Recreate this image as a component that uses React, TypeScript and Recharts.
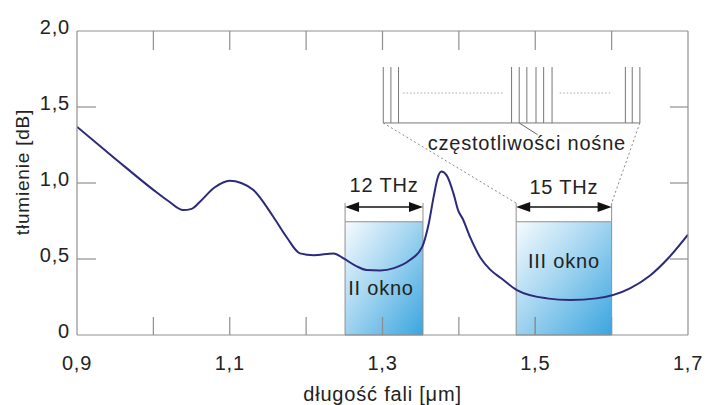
import React from 'react';
import {
  ComposedChart, Line, XAxis, YAxis, ReferenceArea, ReferenceLine, ReferenceDot,
} from 'recharts';

// attenuation curve
const wavelength = [
  0.9, 0.95, 1.0, 1.02, 1.039, 1.05, 1.061, 1.08, 1.1, 1.115, 1.131, 1.157, 1.175, 1.192,
  1.21, 1.236, 1.249, 1.265, 1.279, 1.297, 1.315, 1.335, 1.352, 1.36, 1.367, 1.372, 1.377,
  1.384, 1.393, 1.399, 1.405, 1.415, 1.428, 1.441, 1.455, 1.476, 1.515, 1.546, 1.58, 1.624,
  1.65, 1.675, 1.7,
];
const attenuation = [
  1.37, 1.16, 0.955, 0.88, 0.822, 0.83, 0.877, 0.97, 1.015, 1.0, 0.954, 0.778, 0.64, 0.537,
  0.525, 0.537, 0.504, 0.455, 0.428, 0.425, 0.44, 0.49, 0.58, 0.72, 0.91, 1.03, 1.075,
  1.05, 0.93, 0.82, 0.765, 0.64, 0.51, 0.43, 0.375, 0.296, 0.241, 0.23, 0.241, 0.307,
  0.39, 0.51, 0.66,
];

const xTickValues = [0.9, 1.0, 1.1, 1.2, 1.3, 1.4, 1.5, 1.6, 1.7];
const xTickLabels = ['0,9', '', '1,1', '', '1,3', '', '1,5', '', '1,7'];
const yTickValues = [0, 0.5, 1, 1.5, 2];
const yTickLabels = ['0', '0,5', '1,0', '1,5', '2,0'];

// transmission windows
const windowStarts = [1.251, 1.475];
const windowEnds = [1.353, 1.6];
const windowNames = ['II okno', 'III okno'];
const windowNameY = [0.31, 0.49];
const bandwidths = ['12 THz', '15 THz'];
const bandwidthLabelY = [0.985, 0.975];
const windowTop = 0.745;
const arrowY = 0.842;
const edgeTop = 0.868;

// carrier comb inset
const carriers = [1.301, 1.311, 1.321, 1.469, 1.479, 1.489, 1.501, 1.511, 1.522, 1.618, 1.627, 1.637];
const combBase = 1.395;
const combTop = 1.763;
const gapStarts = [1.327, 1.532];
const gapEnds = [1.46, 1.598];
const gapY = 1.592;

const curve = wavelength.map((x, i) => ({ x, y: attenuation[i] }));

// axis ticks hidden under the windows get redrawn on top of them
const ticksInWindows = xTickValues.filter((t) =>
  windowStarts.some((s, i) => t > s + 0.005 && t < windowEnds[i] - 0.005));

const FONT = '"Liberation Sans", Arial, sans-serif';
const AXIS = '#8f8f8f';
const TEXT = '#222';
const FS = 20;
const LS = 0.8;

const idx = (arr: number[], v: number) => arr.findIndex((a) => Math.abs(a - v) < 1e-6);

const BottomTick = ({ x, y, payload }: any) => {
  const i = idx(xTickValues, payload.value);
  const edge = i === 0 || i === xTickValues.length - 1;
  return (
    <g>
      {!edge && <line x1={x} x2={x} y1={y} y2={y - 18} stroke={AXIS} strokeWidth={1.2} />}
      <text x={x} y={y + 35} textAnchor="middle" fontSize={FS} letterSpacing={LS} fill={TEXT} fontFamily={FONT}>
        {xTickLabels[i]}
      </text>
    </g>
  );
};

const TopTick = ({ x, y, payload }: any) => {
  const i = idx(xTickValues, payload.value);
  if (i <= 0 || i === xTickValues.length - 1) return <g />;
  return <line x1={x} x2={x} y1={y} y2={y + 19} stroke={AXIS} strokeWidth={1.2} />;
};

const LeftTick = ({ x, y, payload }: any) => {
  const i = idx(yTickValues, payload.value);
  const edge = i === 0 || i === yTickValues.length - 1;
  return (
    <g>
      {!edge && <line x1={x} x2={x + 19} y1={y} y2={y} stroke={AXIS} strokeWidth={1.2} />}
      <text x={x - 7} y={y - 4} dy="0.35em" textAnchor="end" fontSize={FS} letterSpacing={LS} fill={TEXT} fontFamily={FONT}>
        {yTickLabels[i]}
      </text>
    </g>
  );
};

const RightTick = ({ x, y, payload }: any) => {
  const i = idx(yTickValues, payload.value);
  if (i <= 0 || i === yTickValues.length - 1) return <g />;
  return <line x1={x} x2={x - 18} y1={y} y2={y} stroke={AXIS} strokeWidth={1.2} />;
};

const textShape = (value: string) => (p: any) => (
  <text x={p.cx} y={p.cy} dy="0.35em" textAnchor="middle" fontSize={FS} letterSpacing={LS} fill={TEXT} fontFamily={FONT}>
    {value}
  </text>
);

const arrowHead = (dir: number) => (p: any) => (
  <path
    d={`M${p.cx},${p.cy} L${p.cx + dir * 14},${p.cy - 5} L${p.cx + dir * 14},${p.cy + 5} Z`}
    fill="#111"
  />
);

// short upward tick mark, 18px tall, drawn at the foot of the plot
const tickMark = (p: any) => (
  <line x1={p.cx} x2={p.cx} y1={p.cy} y2={p.cy - 18} stroke={AXIS} strokeWidth={1.2} />
);

export default function App() {
  return (
    <div style={{ position: 'absolute', left: 0, top: 0, background: '#fff' }}>
      <ComposedChart
        width={706}
        height={405}
        data={curve}
        margin={{ top: 30, right: 17, bottom: 0, left: 0 }}
        style={{ fontFamily: FONT }}
      >
        <defs>
          <linearGradient id="okno" x1="0" y1="0" x2="1" y2="1">
            <stop offset="0%" stopColor="#f6fbfe" />
            <stop offset="45%" stopColor="#a6d6f1" />
            <stop offset="100%" stopColor="#3aa5df" />
          </linearGradient>
        </defs>

        <XAxis
          dataKey="x"
          type="number"
          domain={[0.9, 1.7]}
          allowDataOverflow
          ticks={xTickValues}
          height={70}
          tickSize={0}
          tickMargin={0}
          tickLine={false}
          tick={<BottomTick />}
          axisLine={{ stroke: AXIS, strokeWidth: 1.2 }}
          interval={0}
          label={{ value: 'długość fali [μm]', position: 'insideBottom', offset: 4, fontSize: FS, letterSpacing: LS, fill: TEXT }}
        />
        <XAxis
          xAxisId="top"
          dataKey="x"
          orientation="top"
          type="number"
          domain={[0.9, 1.7]}
          allowDataOverflow
          ticks={xTickValues}
          height={1}
          tickSize={0}
          tickMargin={0}
          tickLine={false}
          tick={<TopTick />}
          axisLine={{ stroke: AXIS, strokeWidth: 1.2 }}
          interval={0}
        />
        <YAxis
          type="number"
          domain={[0, 2]}
          allowDataOverflow
          ticks={yTickValues}
          width={77}
          tickSize={0}
          tickMargin={0}
          tickLine={false}
          tick={<LeftTick />}
          axisLine={{ stroke: AXIS, strokeWidth: 1.2 }}
          interval={0}
        />
        <YAxis
          yAxisId="right"
          dataKey="y"
          orientation="right"
          type="number"
          domain={[0, 2]}
          allowDataOverflow
          ticks={yTickValues}
          width={1}
          tickSize={0}
          tickMargin={0}
          tickLine={false}
          tick={<RightTick />}
          axisLine={{ stroke: AXIS, strokeWidth: 1.2 }}
          interval={0}
        />

        {windowStarts.map((s, i) => (
          <ReferenceArea
            key={`w${i}`}
            x1={s}
            x2={windowEnds[i]}
            y1={0}
            y2={windowTop}
            fill="url(#okno)"
            fillOpacity={1}
            stroke={AXIS}
            strokeWidth={1}
          />
        ))}
        {ticksInWindows.map((t) => (
          <ReferenceDot key={`t${t}`} x={t} y={0} shape={tickMark} />
        ))}
        {windowStarts.map((s, i) => (
          <ReferenceLine key={`el${i}`} segment={[{ x: s, y: windowTop }, { x: s, y: edgeTop }]} stroke={AXIS} strokeWidth={1} />
        ))}
        {windowEnds.map((e, i) => (
          <ReferenceLine key={`er${i}`} segment={[{ x: e, y: windowTop }, { x: e, y: edgeTop }]} stroke={AXIS} strokeWidth={1} />
        ))}
        {windowStarts.map((s, i) => (
          <ReferenceLine
            key={`a${i}`}
            segment={[{ x: s + 0.012, y: arrowY }, { x: windowEnds[i] - 0.012, y: arrowY }]}
            stroke="#111"
            strokeWidth={1.6}
          />
        ))}
        {windowStarts.map((s, i) => (
          <ReferenceDot key={`hl${i}`} x={s} y={arrowY} shape={arrowHead(1)} />
        ))}
        {windowEnds.map((e, i) => (
          <ReferenceDot key={`hr${i}`} x={e} y={arrowY} shape={arrowHead(-1)} />
        ))}
        {bandwidths.map((b, i) => (
          <ReferenceDot key={`b${i}`} x={(windowStarts[i] + windowEnds[i]) / 2} y={bandwidthLabelY[i]} shape={textShape(b)} />
        ))}
        {windowNames.map((n, i) => (
          <ReferenceDot key={`n${i}`} x={(windowStarts[i] + windowEnds[i]) / 2 - (i === 0 ? 0.004 : 0)} y={windowNameY[i]} shape={textShape(n)} />
        ))}

        {/* carrier comb */}
        {carriers.map((c, i) => (
          <ReferenceLine key={`c${i}`} segment={[{ x: c, y: combBase }, { x: c, y: combTop }]} stroke="#777" strokeWidth={1} />
        ))}
        <ReferenceLine segment={[{ x: carriers[0], y: combBase }, { x: carriers[carriers.length - 1], y: combBase }]} stroke="#777" strokeWidth={1} />
        {gapStarts.map((g, i) => (
          <ReferenceLine key={`g${i}`} segment={[{ x: g, y: gapY }, { x: gapEnds[i], y: gapY }]} stroke="#aaa" strokeWidth={1} strokeDasharray="1.5 2" />
        ))}
        <ReferenceLine segment={[{ x: carriers[0], y: combBase }, { x: windowStarts[1], y: edgeTop }]} stroke="#888" strokeWidth={1} strokeDasharray="2 2.5" />
        <ReferenceLine segment={[{ x: carriers[carriers.length - 1], y: combBase }, { x: windowEnds[1], y: edgeTop }]} stroke="#888" strokeWidth={1} strokeDasharray="2 2.5" />
        <ReferenceLine segment={[{ x: carriers[4], y: combBase }, { x: 1.503, y: 1.318 }]} stroke="#666" strokeWidth={1} />
        <ReferenceDot x={1.489} y={1.262} shape={textShape('częstotliwości nośne')} />

        <Line
          type="monotone"
          dataKey="y"
          stroke="#2d2a7c"
          strokeWidth={2}
          dot={false}
          activeDot={false}
          isAnimationActive={false}
        />

        <text x={22} y={172} transform="rotate(-90 22 172)" dy="0.35em" textAnchor="middle" fontSize={19} letterSpacing={LS} fill={TEXT} fontFamily={FONT}>
          tłumienie [dB]
        </text>
      </ComposedChart>
    </div>
  );
}
